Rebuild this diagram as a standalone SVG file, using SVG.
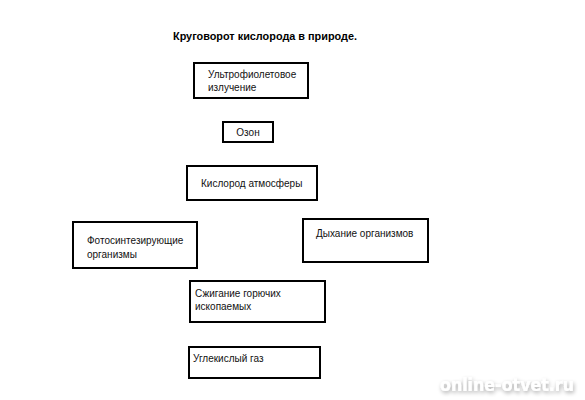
<svg xmlns="http://www.w3.org/2000/svg" width="585" height="400" viewBox="0 0 585 400">
<defs>
<style>
.box{fill:#fff;stroke:#000;stroke-width:2}
.t{font-family:"Liberation Sans",Arial,sans-serif;font-size:10px;fill:#111}
.title{font-family:"Liberation Sans",Arial,sans-serif;font-size:11px;font-weight:bold;fill:#000}
.wm{font-family:"DejaVu Sans","Liberation Sans",sans-serif;font-size:17px;font-weight:bold;fill:#fff}
</style>
<filter id="sh" x="-10%" y="-30%" width="120%" height="160%">
<feGaussianBlur in="SourceAlpha" stdDeviation="2"/>
<feOffset dx="1" dy="2" result="b"/>
<feComponentTransfer><feFuncA type="linear" slope="0.35"/></feComponentTransfer>
<feMerge><feMergeNode/><feMergeNode in="SourceGraphic"/></feMerge>
</filter>
</defs>
<rect width="585" height="400" fill="#fff"/>
<text class="title" x="173" y="40" textLength="184" lengthAdjust="spacingAndGlyphs">Круговорот кислорода в природе.</text>
<g id="uv">
<rect class="box" x="194" y="63" width="114" height="35"/>
<text class="t" x="208" y="78">Ультрофиолетовое</text>
<text class="t" x="208" y="91">излучение</text>
</g>
<g id="ozon">
<rect class="box" x="223" y="122" width="50" height="20"/>
<text class="t" x="248" y="136" text-anchor="middle">Озон</text>
</g>
<g id="kislorod">
<rect class="box" x="187" y="166" width="130" height="34"/>
<text class="t" x="201" y="187">Кислород атмосферы</text>
</g>
<g id="foto">
<rect class="box" x="73" y="222" width="124" height="46"/>
<text class="t" x="87" y="244">Фотосинтезирующие</text>
<text class="t" x="87" y="258">организмы</text>
</g>
<g id="dyhanie">
<rect class="box" x="303" y="219" width="125" height="43"/>
<text class="t" x="316" y="237">Дыхание организмов</text>
</g>
<g id="szhiganie">
<rect class="box" x="190" y="281" width="135" height="41"/>
<text class="t" x="195" y="297">Сжигание горючих</text>
<text class="t" x="195" y="310">ископаемых</text>
</g>
<g id="ugl">
<rect class="box" x="189" y="347" width="131" height="31"/>
<text class="t" x="193" y="362">Углекислый газ</text>
</g>
<g id="connectors"></g>
<text class="wm" x="440" y="391" textLength="134" lengthAdjust="spacingAndGlyphs" filter="url(#sh)">online-otvet.ru</text>
</svg>
